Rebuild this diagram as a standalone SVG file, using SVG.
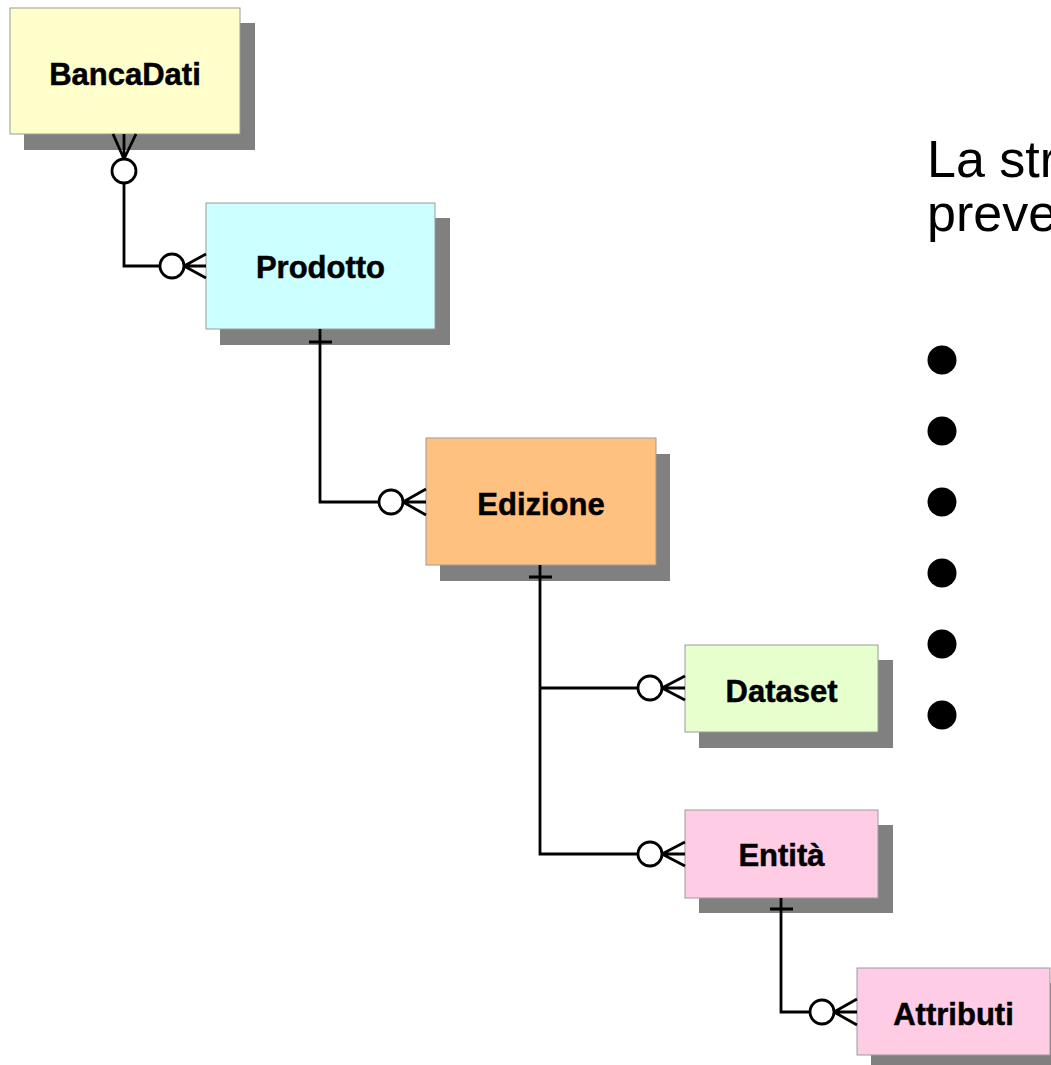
<svg xmlns="http://www.w3.org/2000/svg" width="1051" height="1065" viewBox="0 0 1051 1065">
<style>
.shadow{fill:#808080}
.box{stroke:#9a9a9a;stroke-width:1}
.lbl{font-family:"Liberation Sans",Arial,sans-serif;font-weight:bold;font-size:31px;fill:#000;stroke:#000;stroke-width:0.5;text-anchor:middle}
.conn{fill:none;stroke:#000;stroke-width:2.8}
.ring{fill:#fff;stroke:#000;stroke-width:2.8}
.body{font-family:"Liberation Sans",Arial,sans-serif;font-size:52px;fill:#000}
</style>
<rect width="1051" height="1065" fill="#fff"/>
<g id="node-bancadati">
<rect class="shadow" x="24" y="23" width="231" height="127"/>
<rect class="box" x="10" y="8" width="230" height="126" fill="#FFFFCC"/>
<text class="lbl" x="125" y="85">BancaDati</text>
</g>
<g id="node-prodotto">
<rect class="shadow" x="220" y="218" width="230" height="127"/>
<rect class="box" x="206" y="203" width="229" height="126" fill="#CCFFFF"/>
<text class="lbl" x="320.5" y="278">Prodotto</text>
</g>
<g id="node-edizione">
<rect class="shadow" x="440" y="454" width="230" height="127"/>
<rect class="box" x="426" y="438" width="230" height="127" fill="#FFC180"/>
<text class="lbl" x="541" y="515">Edizione</text>
</g>
<g id="node-dataset">
<rect class="shadow" x="699" y="660" width="194" height="88"/>
<rect class="box" x="685" y="645" width="193" height="87" fill="#E6FFCC"/>
<text class="lbl" x="781.5" y="702">Dataset</text>
</g>
<g id="node-entita">
<rect class="shadow" x="699" y="825" width="194" height="88"/>
<rect class="box" x="685" y="810" width="193" height="88" fill="#FFCCE6"/>
<text class="lbl" x="781.5" y="866">Entità</text>
</g>
<g id="node-attributi">
<rect class="shadow" x="871" y="983" width="194" height="88"/>
<rect class="box" x="857" y="968" width="193" height="87" fill="#FFCCE6"/>
<text class="lbl" x="953.5" y="1025">Attributi</text>
</g>
<g id="connectors">
<!-- BancaDati - Prodotto -->
<path class="conn" d="M113,134 L124,159 M124,134 L124,159 M136,134 L124,159"/>
<path class="conn" d="M124,183 V266 H160"/>
<circle class="ring" cx="124" cy="171" r="12"/>
<circle class="ring" cx="172" cy="266" r="12"/>
<path class="conn" d="M184,266 L206,254 M184,266 H206 M184,266 L206,278"/>
<!-- Prodotto - Edizione -->
<path class="conn" d="M320,329 V502 H379 M309,342 H332"/>
<circle class="ring" cx="391" cy="502" r="12"/>
<path class="conn" d="M403,502 L426,489 M403,502 H426 M403,502 L426,515"/>
<!-- Edizione - Dataset / Entità -->
<path class="conn" d="M540,565 V854 H638 M540,688 H638 M529,577 H552"/>
<circle class="ring" cx="650" cy="688" r="12"/>
<path class="conn" d="M662,688 L685,676 M662,688 H685 M662,688 L685,700"/>
<circle class="ring" cx="650" cy="854" r="12"/>
<path class="conn" d="M662,854 L685,842 M662,854 H685 M662,854 L685,866"/>
<!-- Entità - Attributi -->
<path class="conn" d="M781,898 V1012 H810 M770,909 H793"/>
<circle class="ring" cx="822" cy="1012" r="12"/>
<path class="conn" d="M834,1012 L857,999 M834,1012 H857 M834,1012 L857,1025"/>
</g>
<g id="text-panel">
<text class="body" x="927" y="177">La str</text>
<text class="body" x="927" y="231">preve</text>
<circle cx="942" cy="360" r="14.5"/>
<circle cx="942" cy="431" r="14.5"/>
<circle cx="942" cy="502" r="14.5"/>
<circle cx="942" cy="573" r="14.5"/>
<circle cx="942" cy="644" r="14.5"/>
<circle cx="942" cy="715" r="14.5"/>
</g>
</svg>
